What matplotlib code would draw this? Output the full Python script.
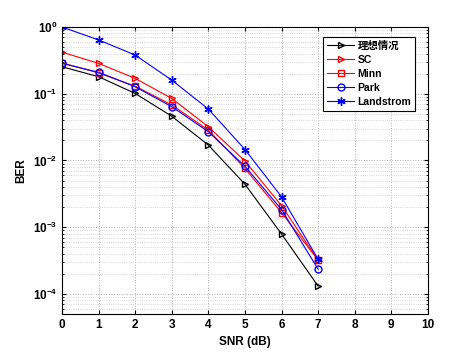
import matplotlib
matplotlib.use('Agg')
import matplotlib.pyplot as plt
import numpy as np

plt.rcParams['font.family'] = ['Liberation Sans', 'Noto Sans CJK SC', 'DejaVu Sans']
plt.rcParams['font.weight'] = 'bold'

snr = [0, 1, 2, 3, 4, 5, 6, 7]
ideal = [0.254, 0.18, 0.101, 0.046, 0.017, 0.0044, 0.00079, 0.000131]
sc = [0.42, 0.285, 0.17, 0.085, 0.032, 0.0098, 0.0021, 0.00032]
minn = [0.29, 0.205, 0.13, 0.068, 0.0285, 0.0076, 0.00165, 0.00032]
park = [0.285, 0.21, 0.127, 0.064, 0.027, 0.0082, 0.00184, 0.000234]
landstrom = [1.0, 0.64, 0.38, 0.16, 0.059, 0.0146, 0.00285, 0.00033]

labels = ['理想情况', 'SC', 'Minn', 'Park', 'Landstrom']

fig = plt.figure(figsize=(4.71, 3.53), dpi=100)
ax = fig.add_axes([0.1316, 0.1105, 0.777, 0.813])

ms = 5
ax.semilogy(snr, ideal, '-k', marker='>', mfc='none', ms=ms, lw=0.8, label=labels[0])
ax.semilogy(snr, sc, '-r', marker='>', mfc='none', ms=ms, lw=0.8, label=labels[1])
ax.semilogy(snr, minn, '-r', marker='s', mfc='none', ms=ms, lw=0.8, label=labels[2])
ax.semilogy(snr, park, '-b', marker='o', mfc='none', ms=ms, lw=0.8, label=labels[3])
ax.semilogy(snr, landstrom, '-b', marker=(6, 2, 0), ms=6, mew=1.0, lw=0.8, label=labels[4])

ax.set_xlim(0, 10)
ax.set_ylim(10 ** -4.3, 1)
ax.set_xticks(range(11))
ax.tick_params(which='both', direction='in', top=True, right=True, labelsize=8.5)
ax.tick_params(which='major', length=3)
ax.tick_params(which='minor', length=1.5)
ax.grid(True, which='major', ls=':', color='#b0b0b0', lw=0.7)
ax.grid(True, which='minor', axis='y', ls=':', color='#c8c8c8', lw=0.6)
for lbl in ax.get_xticklabels() + ax.get_yticklabels():
    lbl.set_fontweight('bold')

ax.set_xlabel('SNR (dB)', fontsize=8.5, fontweight='bold')
ax.set_ylabel('BER', fontsize=8.5, fontweight='bold')

leg = ax.legend(loc='upper right', bbox_to_anchor=(0.98, 0.985), fontsize=7.5,
                fancybox=False, edgecolor='black', framealpha=1,
                handlelength=2.6, borderpad=0.4, labelspacing=0.38, handletextpad=0.3)
leg.get_frame().set_linewidth(0.8)

fig.savefig('out.png', dpi=100)
